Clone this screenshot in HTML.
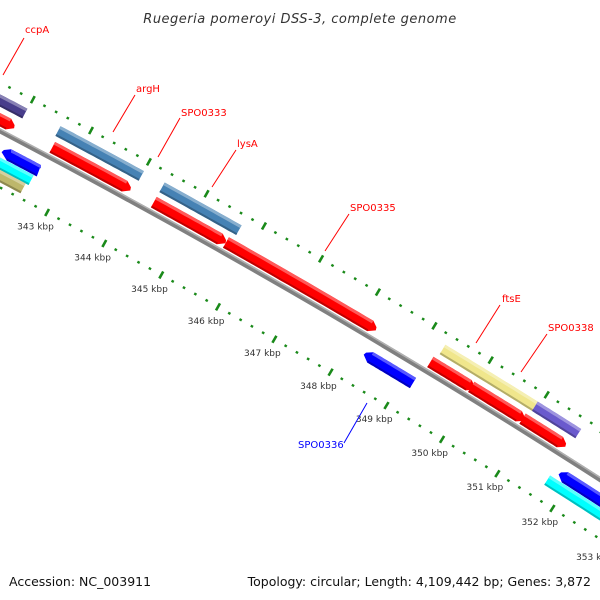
<!DOCTYPE html>
<html><head><meta charset="utf-8">
<style>
html,body{margin:0;padding:0;background:#fff;}
svg{display:block;font-family:"DejaVu Sans","Liberation Sans",sans-serif;}
</style></head>
<body>
<svg id="map" width="600" height="600" viewBox="0 0 600 600" xmlns="http://www.w3.org/2000/svg">
<rect x="0" y="0" width="600" height="600" fill="#fff"/>
<text x="300" y="23" text-anchor="middle" font-size="13" font-style="italic" fill="#333" letter-spacing="0.5">Ruegeria pomeroyi DSS-3, complete genome</text>
<g id="layer"></g>
<text x="9" y="586" font-size="12.5" fill="#111">Accession: NC_003911</text>
<text x="591" y="586" text-anchor="end" font-size="12.5" fill="#111">Topology: circular; Length: 4,109,442 bp; Genes: 3,872</text>
</svg>
<script>
// data (kbp)
const tickStartKbp = 340;
const tickEndKbp = 354;
const geneNames = ["ccpA-cog","ccpA","argH-cog","argH","SPO0333","lysA-cog","lysA","SPO0335","ftsE-cog","ftsE-a","ftsE-b","SPO0338-red","SPO0338-cog","SPO0336","left-rev","left-cyan","left-khaki","right-rev","right-cyan"];
const geneStart = [340.5,340.5,342.56,342.6,344.02,344.36,344.36,345.62,349.29,349.23,349.96,350.88,350.94,348.3,341.95,340.5,340.5,351.8,351.7];
const geneEnd =   [341.99,341.95,344.0,343.96,344.12,345.7,345.62,348.27,350.94,350.02,350.92,351.66,351.72,349.17,342.6,342.55,342.5,354,354];
const geneTrack = ["cog","fwd","cog","fwd","fwd","cog","fwd","fwd","cog","fwd","fwd","fwd","cog","rev","rev","rev2","rev3","rev","rev2"];
const geneColor = ["#483d8b","#ff0000","#4682b4","#ff0000","#ff0000","#4682b4","#ff0000","#ff0000","#f0e68c","#ff0000","#ff0000","#ff0000","#6a5acd","#0000ff","#0000ff","#00ffff","#bdb76b","#0000ff","#00ffff"];
const labelText = ["ccpA","argH","SPO0333","lysA","SPO0335","ftsE","SPO0338","SPO0336"];
const labelColor = ["#f00","#f00","#f00","#f00","#f00","#f00","#f00","#00f"];

const NS="http://www.w3.org/2000/svg";
const layer=document.getElementById('layer');
const th0=27.6*Math.PI/180, R=7800, P0=[0,131];
const C=[P0[0]-R*Math.sin(th0), P0[1]+R*Math.cos(th0)];
const PX_PER_KBP=65.5, S343=80;
function sOf(k){return S343+(k-343)*PX_PER_KBP;}
function pt(s,n){const t=th0+s/R;return [C[0]+(R-n)*Math.sin(t), C[1]-(R-n)*Math.cos(t)];}
const trackN={cog:-27,fwd:-10,rev:17,rev2:29,rev3:40};
function P(a){return a.map(p=>p[0].toFixed(1)+","+p[1].toFixed(1)).join(" ");}
function band(s1,s2,n1,n2){const pts=[];const st=Math.max(2,(s2-s1)/20);
 for(let s=s1;s<=s2+0.01;s+=st)pts.push(pt(Math.min(s,s2),n1));
 for(let s=s2;s>=s1-0.01;s-=st)pts.push(pt(Math.max(s,s1),n2));return pts;}
function poly(pts,fill,name){const e=document.createElementNS(NS,'polygon');e.setAttribute('points',P(pts));e.setAttribute('fill',fill);
 
 
 layer.appendChild(e);return e;}

// backbone
poly(band(-50,800,-2.5,2.5),"#808080","backbone");
poly(band(-50,800,-2.5,-1),"#b0b0b0","backbone-highlight");

// ticks
function tick(k,n,major,name){const s=sOf(k);const l=document.createElementNS(NS,'line');
 const a=pt(s,n-(major?4:1.2)),b=pt(s,n+(major?4:1.2));
 l.setAttribute('x1',a[0]);l.setAttribute('y1',a[1]);l.setAttribute('x2',b[0]);l.setAttribute('y2',b[1]);
 l.setAttribute('stroke','#1a8a1a');l.setAttribute('stroke-width',major?2.6:2.6);
 
 
 layer.appendChild(l);}
for(let i=tickStartKbp*5;i<=tickEndKbp*5;i++){const k=i/5,major=(i%5===0);
 tick(k,-43,major,major?'outer-major-tick':'outer-minor-tick');
 tick(k,50,major,major?'inner-major-tick':'inner-minor-tick');
 if(major){const p=pt(sOf(k),66);const t=document.createElementNS(NS,'text');
  t.setAttribute('x',p[0]-4);t.setAttribute('y',p[1]+3);t.setAttribute('text-anchor','middle');t.setAttribute('font-size','9');t.setAttribute('fill','#333');
  t.textContent=k+" kbp";
  
  
  layer.appendChild(t);}}

// genes
function lighten(c){const h=c.slice(1);const r=parseInt(h.slice(0,2),16),g=parseInt(h.slice(2,4),16),b=parseInt(h.slice(4,6),16);
 const f=x=>Math.round(x+(255-x)*0.35);return "rgb("+f(r)+","+f(g)+","+f(b)+")";}
function darken(c){const h=c.slice(1);const r=parseInt(h.slice(0,2),16),g=parseInt(h.slice(2,4),16),b=parseInt(h.slice(4,6),16);
 const f=x=>Math.round(x*0.75);return "rgb("+f(r)+","+f(g)+","+f(b)+")";}
for(let i=0;i<geneNames.length;i++){
 const tr=geneTrack[i],n=trackN[tr],h=tr==='fwd'||tr==='rev'?12:11,s1=sOf(geneStart[i]),s2=sOf(geneEnd[i]);
 const col=geneColor[i];const a=7;let pts;
 if(tr==='fwd'){pts=band(s1,s2-a,n-h/2,n+h/2);const k=pts.length/2;pts.splice(k,0,pt(s2-1,n-2),pt(s2,n+1));}
 else if(tr==='rev'){pts=band(s1+a,s2,n-h/2,n+h/2);pts.push(pt(s1,n+1),pt(s1+1,n-2));}
 else pts=band(s1,s2,n-h/2,n+h/2);
 poly(pts,col,'gene-'+geneNames[i]);
 poly(band(tr==='rev'?s1+a:s1,tr==='fwd'?s2-a:s2,n-h/2,n-h/2+3),lighten(col),'gene-'+geneNames[i]+'-highlight');
 poly(band(tr==='rev'?s1+a:s1,tr==='fwd'?s2-a:s2,n+h/2-2,n+h/2),darken(col),'gene-'+geneNames[i]+'-shade');
}

// labels
const lab=[[25,33,3,75,24,38],[136,92,113,132,135,95],[181,116,158,157,180,118],[237,147,212,187,236,150],[350,211,325,251,349,214],[502,302,476,343,500,305],[548,331,521,372,547,334],[298,448,344,443,367,403]];
for(let i=0;i<labelText.length;i++){const L=lab[i];
 const l=document.createElementNS(NS,'line');l.setAttribute('x1',L[2]);l.setAttribute('y1',L[3]);l.setAttribute('x2',L[4]);l.setAttribute('y2',L[5]);
 l.setAttribute('stroke',labelColor[i]);l.setAttribute('stroke-width','1');
 
 
 layer.appendChild(l);
 const t=document.createElementNS(NS,'text');t.setAttribute('x',L[0]);t.setAttribute('y',L[1]);t.setAttribute('font-size','10');t.setAttribute('fill',labelColor[i]);
 t.textContent=labelText[i];
 
 
 layer.appendChild(t);}
</script>
</body></html>
